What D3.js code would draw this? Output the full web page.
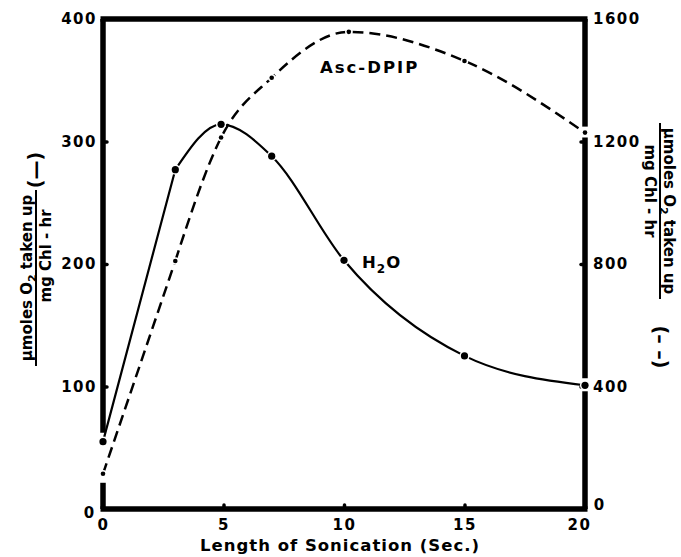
<!DOCTYPE html>
<html><head><meta charset="utf-8">
<script src="https://cdn.jsdelivr.net/npm/d3@7"></script>
<style>
body{margin:0;background:#fff}
svg{display:block}
text{font-family:"DejaVu Sans",sans-serif;font-weight:bold;fill:#000}
</style>
</head><body><svg id="c" width="681" height="557"></svg>
<script>
// ---- data ----
const xTicks = [0, 5, 10, 15, 20];
const leftTicks = [100, 200, 300, 400];
const rightTicks = [400, 800, 1200, 1600];
const h2oX = [0, 3, 4.9, 7, 10, 15, 20];
const h2oY = [55, 277, 314, 288, 203, 125, 101];      // left axis
const ascX = [0, 3, 4.9, 7, 10.2, 15, 20];
const ascY = [115, 810, 1213, 1408, 1558, 1463, 1229]; // right axis

const svg = d3.select("#c");
svg.append("rect").attr("width",681).attr("height",557).attr("fill","#fff");

const x = d3.scaleLinear().domain([0,20]).range([103,585]);
const yL = d3.scaleLinear().domain([0,400]).range([509,19]);
const yR = d3.scaleLinear().domain([0,1600]).range([509,19]);

const FS = 15;

// ---- frame ----
const frame = svg.append("g").attr("stroke","#000").attr("stroke-width",5.5).attr("fill","none");
frame.append("line").attr("x1",x(0)-2.5).attr("x2",x(20)+2.5).attr("y1",yL(400)).attr("y2",yL(400));
frame.append("line").attr("x1",x(0)-2.5).attr("x2",x(20)+2.5).attr("y1",yL(0)).attr("y2",yL(0));
frame.append("line").attr("x1",x(0)).attr("x2",x(0)).attr("y1",yL(400)).attr("y2",yL(h2oY[0])-9);
frame.append("line").attr("x1",x(0)).attr("x2",x(0)).attr("y1",yR(ascY[0])+9).attr("y2",yL(0));
frame.append("line").attr("x1",x(20)).attr("x2",x(20)).attr("y1",yL(400)).attr("y2",yR(ascY[6])-6);
frame.append("line").attr("x1",x(20)).attr("x2",x(20)).attr("y1",yR(ascY[6])+5).attr("y2",yL(h2oY[6])-7);
frame.append("line").attr("x1",x(20)).attr("x2",x(20)).attr("y1",yL(h2oY[6])+6).attr("y2",yL(0));

// ---- axes (tick bumps pointing inward) ----
function styleAxis(g){
  g.select(".domain").remove();
  g.selectAll(".tick line").attr("stroke","#000").attr("stroke-width",3.5).attr("stroke-linecap","round");
  g.selectAll(".tick text").attr("font-size",FS).attr("font-family","DejaVu Sans").attr("font-weight","bold")
    .attr("fill","#000").attr("letter-spacing",1.5);
}
const gL = svg.append("g").attr("transform",`translate(${x(0)},0)`)
  .call(d3.axisLeft(yL).tickValues(leftTicks).tickSizeInner(-4).tickSizeOuter(0).tickPadding(6).tickFormat(d3.format("d")));
styleAxis(gL);
gL.selectAll(".tick").filter(d=>d===400).select("line").remove();

const gR = svg.append("g").attr("transform",`translate(${x(20)},0)`)
  .call(d3.axisRight(yR).tickValues(rightTicks).tickSizeInner(-4).tickSizeOuter(0).tickPadding(8).tickFormat(d3.format("d")));
styleAxis(gR);
gR.selectAll(".tick").filter(d=>d===1600).select("line").remove();

const gB = svg.append("g").attr("transform",`translate(0,${yL(0)})`)
  .call(d3.axisBottom(x).tickValues(xTicks).tickSizeInner(-4).tickSizeOuter(0).tickPadding(10).tickFormat(d3.format("d")));
styleAxis(gB);
gB.selectAll(".tick").filter(d=>d===0||d===20).select("line").remove();
gB.selectAll(".tick").filter(d=>d===20).select("text").attr("x",-6);

svg.append("text").attr("x",x(0)-14).attr("y",yL(0)+9).attr("text-anchor","middle").attr("font-size",FS).text("0");
svg.append("text").attr("x",x(20)+14).attr("y",yR(0)+1).attr("text-anchor","middle").attr("font-size",FS).text("0");

// ---- series ----
const h2o = h2oX.map((v,i)=>[x(v), yL(h2oY[i])]);
const asc = ascX.map((v,i)=>[x(v), yR(ascY[i])]);

function seriesPath(pts){
  // first segment straight, rest smooth
  const a = d3.line()(pts.slice(0,2));
  const b = d3.line().curve(d3.curveMonotoneX)(pts.slice(1));
  return a + b;
}
svg.append("path").attr("d", seriesPath(asc))
  .attr("fill","none").attr("stroke","#000").attr("stroke-width",2.5).attr("stroke-dasharray","11,6");
svg.append("path").attr("d", seriesPath(h2o))
  .attr("fill","none").attr("stroke","#000").attr("stroke-width",2.2);

svg.append("g").selectAll("circle").data(asc).join("circle")
  .attr("cx",d=>d[0]).attr("cy",d=>d[1]).attr("r",2.3)
  .attr("fill","#000").attr("stroke","#fff").attr("stroke-width",3).attr("paint-order","stroke");
svg.append("g").selectAll("circle").data(h2o).join("circle")
  .attr("cx",d=>d[0]).attr("cy",d=>d[1]).attr("r",3.6)
  .attr("fill","#000").attr("stroke","#fff").attr("stroke-width",3).attr("paint-order","stroke");

// ---- series labels ----
svg.append("text").attr("x",320).attr("y",73).attr("font-size",16.5).attr("letter-spacing",2).text("Asc-DPIP");
const h = svg.append("text").attr("x",362).attr("y",268).attr("font-size",16.5).attr("letter-spacing",1);
h.append("tspan").text("H");
h.append("tspan").attr("font-size",12).attr("dy",5).text("2");
h.append("tspan").attr("dy",-5).text("O");

// ---- axis titles ----
svg.append("text").attr("x",340).attr("y",551).attr("text-anchor","middle").attr("font-size",16.5).attr("letter-spacing",1)
  .text("Length of Sonication (Sec.)");

function fracLabel(tx, ty, rot, denomShift, parenText, parenOffset){
  const g = svg.append("g").attr("transform",`translate(${tx},${ty}) rotate(${rot})`);
  g.append("line").attr("x1",-88).attr("x2",88).attr("y1",0).attr("y2",0).attr("stroke","#000").attr("stroke-width",2);
  const t = g.append("text").attr("x",0).attr("y",-4).attr("text-anchor","middle").attr("font-size",FS);
  t.append("tspan").text("\u00b5moles O");
  t.append("tspan").attr("font-size",11).attr("dy",4).text("2");
  t.append("tspan").attr("dy",-4).text(" taken up");
  g.append("text").attr("x",denomShift).attr("y",15).attr("text-anchor","middle").attr("font-size",FS).text("mg Chl - hr");
  g.append("text").attr("x",parenOffset).attr("y",6).attr("text-anchor","middle").attr("font-size",19).text(parenText);
}
fracLabel(36, 278, -90, 22, "(\u2014)", 108);
fracLabel(660, 211, 90, -20, "(\u2013 \u2013)", 136);
</script>
</body></html>
